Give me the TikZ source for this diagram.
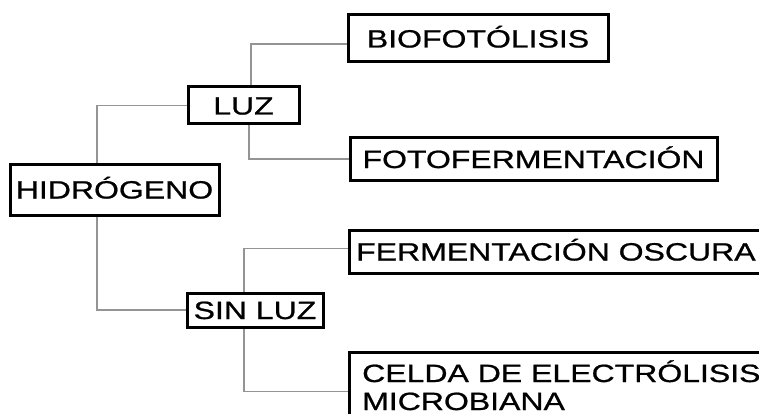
\documentclass[tikz,border=0pt]{standalone}
\usepackage{fontspec}
\setmainfont{Liberation Sans}[FakeStretch=1.28,FakeBold=0.8]
\begin{document}
\begin{tikzpicture}[x=1pt,y=-1pt,
  box/.style={draw=black, line width=3pt, fill=white, inner sep=0pt,
    text height=18pt, text depth=0pt, font=\fontsize{25}{29}\selectfont},
  txt/.style={inner sep=0pt, font=\fontsize{25}{29}\selectfont},
  conn/.style={draw=black!42, line width=1.8pt}]
\useasboundingbox (0,0) rectangle (759,414);
\clip (0,0) rectangle (759,414);
% boxes
\node[box, minimum width=209pt, minimum height=51pt] (hid) at (114.5,189.5) {HIDRÓGENO};
\node[box, minimum width=111pt, minimum height=37pt] (luz) at (243.5,105.5) {LUZ};
\node[box, minimum width=136pt, minimum height=34pt] (sin) at (255,310) {SIN LUZ};
\node[box, minimum width=260pt, minimum height=47pt] (bio) at (478,38.5) {BIOFOTÓLISIS};
\node[box, minimum width=367pt, minimum height=42pt] (foto) at (533.5,159) {FOTOFERMENTACIÓN};
\node[box, anchor=north west, minimum width=442pt, minimum height=43pt] (ferm) at (348,229) {};
\node[box, anchor=north west, minimum width=442pt, minimum height=78pt] (celda) at (348,351) {};
\node[txt, anchor=base west] (fermt) at (356,260.5) {FERMENTACIÓN OSCURA};
\node[txt, anchor=base west] (celt1) at (362,382) {CELDA DE ELECTRÓLISIS};
\node[txt, anchor=base west] (celt2) at (362,410) {MICROBIANA};
% connectors
\path[conn] ([xshift=-17.5pt]hid.north) |- (luz.west);
\path[conn] ([xshift=-17.5pt]hid.south) |- (sin.west);
\path[conn] ([xshift=7.5pt]luz.north) |- ([yshift=-5.5pt]bio.west);
\path[conn] ([xshift=5.5pt]luz.south) |- (foto.west);
\path[conn] ([xshift=-11pt]sin.north) |- ([yshift=3.5pt]ferm.west);
\path[conn] ([xshift=-11pt]sin.south) |- (celda.west);
\end{tikzpicture}
\end{document}
